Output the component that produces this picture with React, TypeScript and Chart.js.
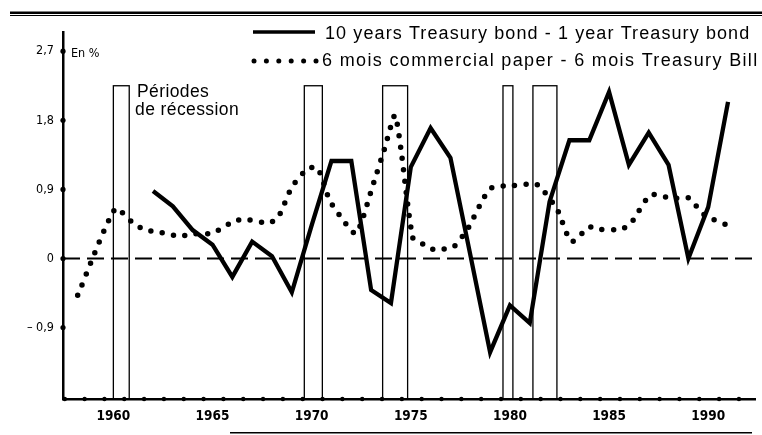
import React, { useEffect, useRef } from "react";
import { Chart, registerables } from "chart.js";

Chart.register(...registerables);

// ---- Data ----
const SOLID_LABEL = "10 years Treasury bond - 1 year Treasury bond";
const DOTTED_LABEL = "6 mois commercial paper - 6 mois Treasury Bill";

const SOLID_YEARS = [
  1962, 1963, 1964, 1965, 1966, 1967, 1968, 1969, 1970, 1971, 1972, 1973, 1974, 1975, 1976,
  1977, 1978, 1979, 1980, 1981, 1982, 1983, 1984, 1985, 1986, 1987, 1988, 1989, 1990, 1991,
];
const SOLID_VALUES = [
  0.88, 0.68, 0.37, 0.18, -0.24, 0.22, 0.03, -0.44, 0.43, 1.27, 1.27, -0.41, -0.58, 1.19, 1.7,
  1.31, 0.05, -1.22, -0.61, -0.84, 0.74, 1.54, 1.54, 2.17, 1.22, 1.64, 1.22, 0.0, 0.67, 2.04,
];

const DOTTED_YEARS = [
  1958.2, 1960.1, 1961.0, 1961.6, 1962.2, 1963.3, 1964.0, 1965.0, 1966.1, 1966.7, 1967.8,
  1968.3, 1969.0, 1969.8, 1970.3, 1970.9, 1971.5, 1972.2, 1972.5, 1973.0, 1973.7, 1974.2,
  1974.5, 1975.1, 1975.6, 1976.1, 1976.6, 1977.2, 1977.9, 1979.0, 1980.2, 1981.3, 1981.7,
  1982.4, 1983.1, 1984.0, 1984.5, 1985.6, 1986.1, 1987.1, 1988.2, 1989.0, 1989.8, 1990.9,
];
const DOTTED_VALUES = [
  -0.48, 0.65, 0.46, 0.37, 0.35, 0.29, 0.32, 0.33, 0.49, 0.51, 0.46, 0.53, 0.93, 1.17, 1.18,
  0.76, 0.53, 0.32, 0.46, 0.88, 1.45, 1.87, 1.43, 0.27, 0.19, 0.12, 0.12, 0.16, 0.4, 0.91,
  0.95, 0.97, 0.88, 0.63, 0.22, 0.41, 0.38, 0.38, 0.46, 0.83, 0.78, 0.79, 0.57, 0.44,
];

const RECESSION_START = [1960.0, 1969.63, 1973.58, 1979.65, 1981.16];
const RECESSION_END = [1960.8, 1970.54, 1974.84, 1980.15, 1982.37];
const RECESSION_TOP = 2.25;

const X_TICKS = [1960, 1965, 1970, 1975, 1980, 1985, 1990];
const Y_TICKS = [2.7, 1.8, 0.9, 0, -0.9];
const AXIS_DOT_YEARS = [
  1957, 1958, 1959, 1960, 1961, 1962, 1963, 1964, 1965, 1966, 1967, 1968, 1969, 1970, 1971,
  1972, 1973, 1974, 1975, 1976, 1977, 1978, 1979, 1980, 1981, 1982, 1983, 1984, 1985, 1986,
  1987, 1988, 1989, 1990, 1991,
];

const X_MIN = 1957.46;
const X_MAX = 1992.36;
const Y_MIN = -1.83;
const Y_MAX = 2.95;

const NARROW = "'Liberation Sans Narrow', 'Arial Narrow', 'DejaVu Sans Condensed', sans-serif";
const SANS = "'Liberation Sans', Arial, Helvetica, sans-serif";

const fmt = (v: number) => v.toFixed(1).replace(".", ",").replace(/,0$/, "");

const decor = {
  id: "decor",
  beforeDatasetsDraw(chart: any) {
    const { ctx, chartArea, scales } = chart;
    const x = scales.x;
    const y = scales.y;
    ctx.save();
    ctx.strokeStyle = "#000";
    ctx.lineWidth = 1.3;
    RECESSION_START.forEach((s, i) => {
      const x0 = x.getPixelForValue(s);
      const x1 = x.getPixelForValue(RECESSION_END[i]);
      const yt = y.getPixelForValue(RECESSION_TOP);
      const yb = chartArea.bottom;
      ctx.strokeRect(x0, yt, x1 - x0, yb - yt);
    });
    const y0 = y.getPixelForValue(0);
    ctx.setLineDash([17, 7]);
    ctx.lineWidth = 2;
    ctx.beginPath();
    ctx.moveTo(chartArea.left, y0);
    ctx.lineTo(chartArea.right, y0);
    ctx.stroke();
    ctx.restore();
  },
  afterDraw(chart: any) {
    const { ctx, chartArea, scales } = chart;
    const x = scales.x;
    const y = scales.y;
    ctx.save();
    ctx.fillStyle = "#000";
    ctx.strokeStyle = "#000";
    // axis dots
    Y_TICKS.forEach((v) => {
      ctx.beginPath();
      ctx.arc(chartArea.left, y.getPixelForValue(v), 2.6, 0, Math.PI * 2);
      ctx.fill();
    });
    AXIS_DOT_YEARS.forEach((yr) => {
      ctx.beginPath();
      ctx.arc(x.getPixelForValue(yr + 0.55), chartArea.bottom, 2.2, 0, Math.PI * 2);
      ctx.fill();
    });
    // top double rule
    ctx.fillRect(10, 11.5, 752, 2.5);
    ctx.fillRect(10, 15, 752, 1);
    // bottom rule
    ctx.fillRect(230, 432, 522, 1.5);

    // unit label
    ctx.font = `12.5px ${NARROW}`;
    ctx.textBaseline = "alphabetic";
    ctx.textAlign = "left";
    ctx.fillText("En %", 71, 57);

    // recession label
    ctx.font = `17.5px ${SANS}`;
    (ctx as any).letterSpacing = "0.4px";
    ctx.fillText("Périodes", 137, 97);
    ctx.fillText("de récession", 135, 115);

    // legend
    const ds = chart.data.datasets;
    ctx.font = `18px ${SANS}`;
    (ctx as any).letterSpacing = "1.1px";
    ctx.fillText(ds[0].label, 325, 39);
    (ctx as any).letterSpacing = "1.35px";
    ctx.fillText(ds[1].label, 322, 66);
    (ctx as any).letterSpacing = "0px";
    ctx.lineWidth = 3.4;
    ctx.beginPath();
    ctx.moveTo(253, 32);
    ctx.lineTo(315, 32);
    ctx.stroke();
    for (let i = 0; i < 6; i++) {
      ctx.beginPath();
      ctx.arc(254 + i * 12.4, 61, 2.5, 0, Math.PI * 2);
      ctx.fill();
    }
    ctx.restore();
  },
};

export default function App() {
  const ref = useRef<HTMLCanvasElement>(null);
  useEffect(() => {
    if (!ref.current) return;
    const chart = new Chart(ref.current, {
      type: "line",
      data: {
        datasets: [
          {
            label: SOLID_LABEL,
            data: SOLID_YEARS.map((yr, i) => ({ x: yr, y: SOLID_VALUES[i] })),
            borderColor: "#000",
            borderWidth: 4.3,
            pointRadius: 0,
            tension: 0,
            borderJoinStyle: "miter",
          },
          {
            label: DOTTED_LABEL,
            data: DOTTED_YEARS.map((yr, i) => ({ x: yr, y: DOTTED_VALUES[i] })),
            borderColor: "#000",
            borderWidth: 5.5,
            borderDash: [0, 11.5],
            borderCapStyle: "round",
            pointRadius: 0,
            tension: 0.2,
          },
        ],
      },
      options: {
        animation: false,
        responsive: false,
        devicePixelRatio: 1,
        layout: { padding: { left: 0, right: 7, top: 32, bottom: 0 } },
        plugins: { legend: { display: false }, tooltip: { enabled: false } },
        scales: {
          x: {
            type: "linear",
            min: X_MIN,
            max: X_MAX,
            afterFit: (s: any) => {
              s.height = 36;
            },
            afterBuildTicks: (s: any) => {
              s.ticks = X_TICKS.map((v) => ({ value: v }));
            },
            grid: { display: false, drawTicks: false },
            border: { display: true, color: "#000", width: 2.5 },
            ticks: {
              color: "#000",
              font: { family: NARROW, size: 13.5, weight: "bold" },
              padding: 9,
              maxRotation: 0,
              autoSkip: false,
              callback: (v: any) => String(v),
            },
          },
          y: {
            type: "linear",
            min: Y_MIN,
            max: Y_MAX,
            afterFit: (s: any) => {
              s.width = 63;
            },
            afterBuildTicks: (s: any) => {
              s.ticks = Y_TICKS.map((v) => ({ value: v }));
            },
            grid: { display: false, drawTicks: false },
            border: { display: true, color: "#000", width: 2.5 },
            ticks: {
              color: "#000",
              font: { family: NARROW, size: 12.5 },
              padding: 9,
              callback: (v: any) => (v < 0 ? "– " + fmt(-v) : fmt(v)),
            },
          },
        },
      },
      plugins: [decor],
    } as any);
    return () => chart.destroy();
  }, []);
  return (
    <div style={{ position: "fixed", left: 0, top: 0, width: 762, height: 435, background: "#fff" }}>
      <canvas ref={ref} width={762} height={435} style={{ display: "block", width: 762, height: 435 }} />
    </div>
  );
}
